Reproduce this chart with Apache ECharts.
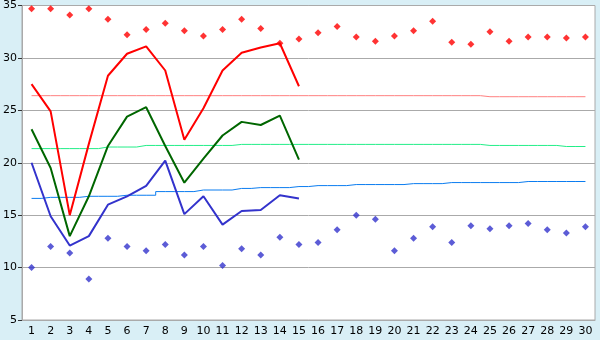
<!DOCTYPE html>
<html>
<head>
<meta charset="utf-8">
<script src="https://cdn.jsdelivr.net/npm/echarts@6/dist/echarts.min.js"></script>
<style>
  html, body { margin: 0; padding: 0; background: #d9eff6; }
  #chart { width: 600px; height: 340px; }
</style>
</head>
<body>
<div id="chart"></div>
<script>
// days of the month
const days = ['1','2','3','4','5','6','7','8','9','10','11','12','13','14','15','16','17','18','19','20','21','22','23','24','25','26','27','28','29','30'];

// record highs / lows per day
const recordMax = [34.7,34.7,34.1,34.7,33.7,32.2,32.7,33.3,32.6,32.1,32.7,33.7,32.8,31.4,31.8,32.4,33.0,32.0,31.6,32.1,32.6,33.5,31.5,31.3,32.5,31.6,32.0,32.0,31.9,32.0];
const recordMin = [10.0,12.0,11.4,8.9,12.8,12.0,11.6,12.2,11.2,12.0,10.2,11.8,11.2,12.9,12.2,12.4,13.6,15.0,14.6,11.6,12.8,13.9,12.4,14.0,13.7,14.0,14.2,13.6,13.3,13.9];

// observed (first half of month)
const tMax = [27.5,24.9,15.0,21.8,28.3,30.4,31.1,28.8,22.2,25.2,28.8,30.5,31.0,31.4,27.3];
const tAvg = [23.2,19.5,13.0,16.8,21.6,24.4,25.3,21.6,18.1,20.4,22.6,23.9,23.6,24.5,20.3];
const tMin = [20.0,14.9,12.1,13.0,16.0,16.8,17.8,20.2,15.1,16.8,14.1,15.4,15.5,16.9,16.6];

// climate normals
const normMax = [26.4,26.4,26.4,26.4,26.4,26.4,26.4,26.4,26.4,26.4,26.4,26.4,26.4,26.4,26.4,26.4,26.4,26.4,26.4,26.4,26.4,26.4,26.4,26.4,26.3,26.3,26.3,26.3,26.3,26.3];
const normAvg = [21.35,21.35,21.35,21.35,21.5,21.5,21.65,21.65,21.65,21.65,21.65,21.75,21.75,21.75,21.75,21.75,21.75,21.75,21.75,21.75,21.75,21.75,21.75,21.75,21.65,21.65,21.65,21.65,21.55,21.55];
const normMin = [16.6,16.7,16.7,16.8,16.8,16.9,16.9,17.25,17.25,17.4,17.4,17.55,17.63,17.63,17.73,17.82,17.82,17.92,17.92,17.92,18.01,18.01,18.11,18.11,18.11,18.11,18.21,18.21,18.21,18.21];

const yTicks = [5, 35, 5]; // min, max, interval

const chart = echarts.init(document.getElementById('chart'));

const fontFamily = 'DejaVu Sans';

chart.setOption({
  animation: false,
  backgroundColor: '#d9eff6',
  grid: {
    left: 20, right: 5, top: 5, bottom: 20,
    show: true,
    backgroundColor: '#ffffff',
    borderColor: '#aaaaaa',
    borderWidth: 1
  },
  xAxis: {
    type: 'category',
    data: days,
    boundaryGap: true,
    axisLine: { lineStyle: { color: '#aaaaaa' } },
    axisTick: { alignWithLabel: true, length: 5, lineStyle: { color: '#333' } },
    axisLabel: { color: '#000', fontFamily: fontFamily, fontSize: 11, margin: 6, interval: 0 },
    splitLine: { show: false }
  },
  yAxis: {
    type: 'value',
    min: yTicks[0], max: yTicks[1], interval: yTicks[2],
    axisLine: { show: true, lineStyle: { color: '#aaaaaa' } },
    axisTick: { show: true, length: 4, lineStyle: { color: '#333' } },
    axisLabel: { color: '#000', fontFamily: fontFamily, fontSize: 11, margin: 5 },
    splitLine: { lineStyle: { color: '#aaaaaa', width: 1 } }
  },
  series: [
    {
      type: 'line', data: normMax, step: 'middle', symbol: 'none',
      lineStyle: { color: '#ff8080', width: 1 }, z: 2
    },
    {
      type: 'line', data: normAvg, step: 'middle', symbol: 'none',
      lineStyle: { color: '#22ee88', width: 1 }, z: 2
    },
    {
      type: 'line', data: normMin, step: 'middle', symbol: 'none',
      lineStyle: { color: '#0a7cf0', width: 1 }, z: 2
    },
    {
      type: 'line', data: tMax, symbol: 'none',
      lineStyle: { color: '#ff0000', width: 2 }, z: 3
    },
    {
      type: 'line', data: tAvg, symbol: 'none',
      lineStyle: { color: '#006600', width: 2 }, z: 3
    },
    {
      type: 'line', data: tMin, symbol: 'none',
      lineStyle: { color: '#3333cc', width: 2 }, z: 3
    },
    {
      type: 'scatter', data: recordMax, symbol: 'diamond', symbolSize: 7,
      itemStyle: { color: '#ff0000' }, z: 4
    },
    {
      type: 'scatter', data: recordMin, symbol: 'diamond', symbolSize: 7,
      itemStyle: { color: '#3333cc' }, z: 4
    }
  ]
});
</script>
</body>
</html>
